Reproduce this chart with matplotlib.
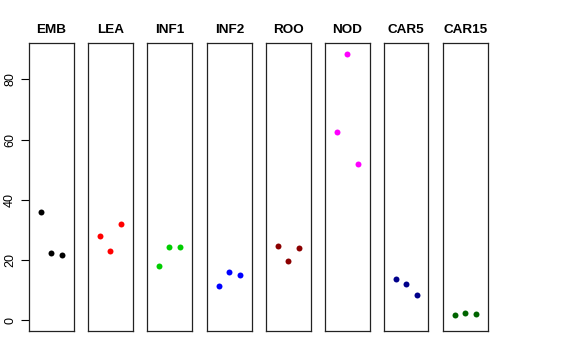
import matplotlib
matplotlib.use("Agg")
import matplotlib.pyplot as plt

plt.rcParams['font.family'] = ['Liberation Sans', 'DejaVu Sans']

groups = ["EMB", "LEA", "INF1", "INF2", "ROO", "NOD", "CAR5", "CAR15"]
colors = ["#000000", "#FF0000", "#00CD00", "#0000FF", "#8B0000", "#FF00FF", "#00008B", "#006400"]
values = {
    "EMB":   [35.8, 22.4, 21.8],
    "LEA":   [28.0, 23.1, 32.0],
    "INF1":  [18.1, 24.3, 24.3],
    "INF2":  [11.3, 16.1, 15.0],
    "ROO":   [24.8, 19.8, 23.9],
    "NOD":   [62.6, 88.5, 52.0],
    "CAR5":  [13.6, 12.05, 8.5],
    "CAR15": [1.8, 2.5, 2.1],
}
reps = [1, 2, 3]
yticks = [0, 20, 40, 60, 80]

W, H = 576, 360
fig = plt.figure(figsize=(W / 100, H / 100), dpi=100)

ymax = max(max(v) for v in values.values())
ylim = (0 - 0.04 * ymax, ymax * 1.04)
lefts = [29, 88, 147, 207, 266, 325, 384, 443]
pw = 44.5
top, bottom = 43, 331

for i, (g, c) in enumerate(zip(groups, colors)):
    ax = fig.add_axes([lefts[i] / W, 1 - bottom / H, pw / W, (bottom - top) / H])
    ax.plot(reps, values[g], 'o', color=c, markersize=4.3, markeredgewidth=0)
    ax.set_xlim(-0.16, 4.16)
    ax.set_ylim(*ylim)
    ax.set_xticks([])
    for s in ax.spines.values():
        s.set_linewidth(0.9)
        s.set_color('#222222')
    ax.set_title(g, fontsize=9.7, fontweight='bold', pad=7)
    if i == 0:
        ax.set_yticks(yticks)
        ax.set_yticklabels([str(t) for t in yticks], rotation=90, va='center', fontsize=9)
        ax.tick_params(axis='y', length=5.8, width=0.8, pad=3.5)
    else:
        ax.set_yticks([])

fig.savefig("out.png", dpi=100)
